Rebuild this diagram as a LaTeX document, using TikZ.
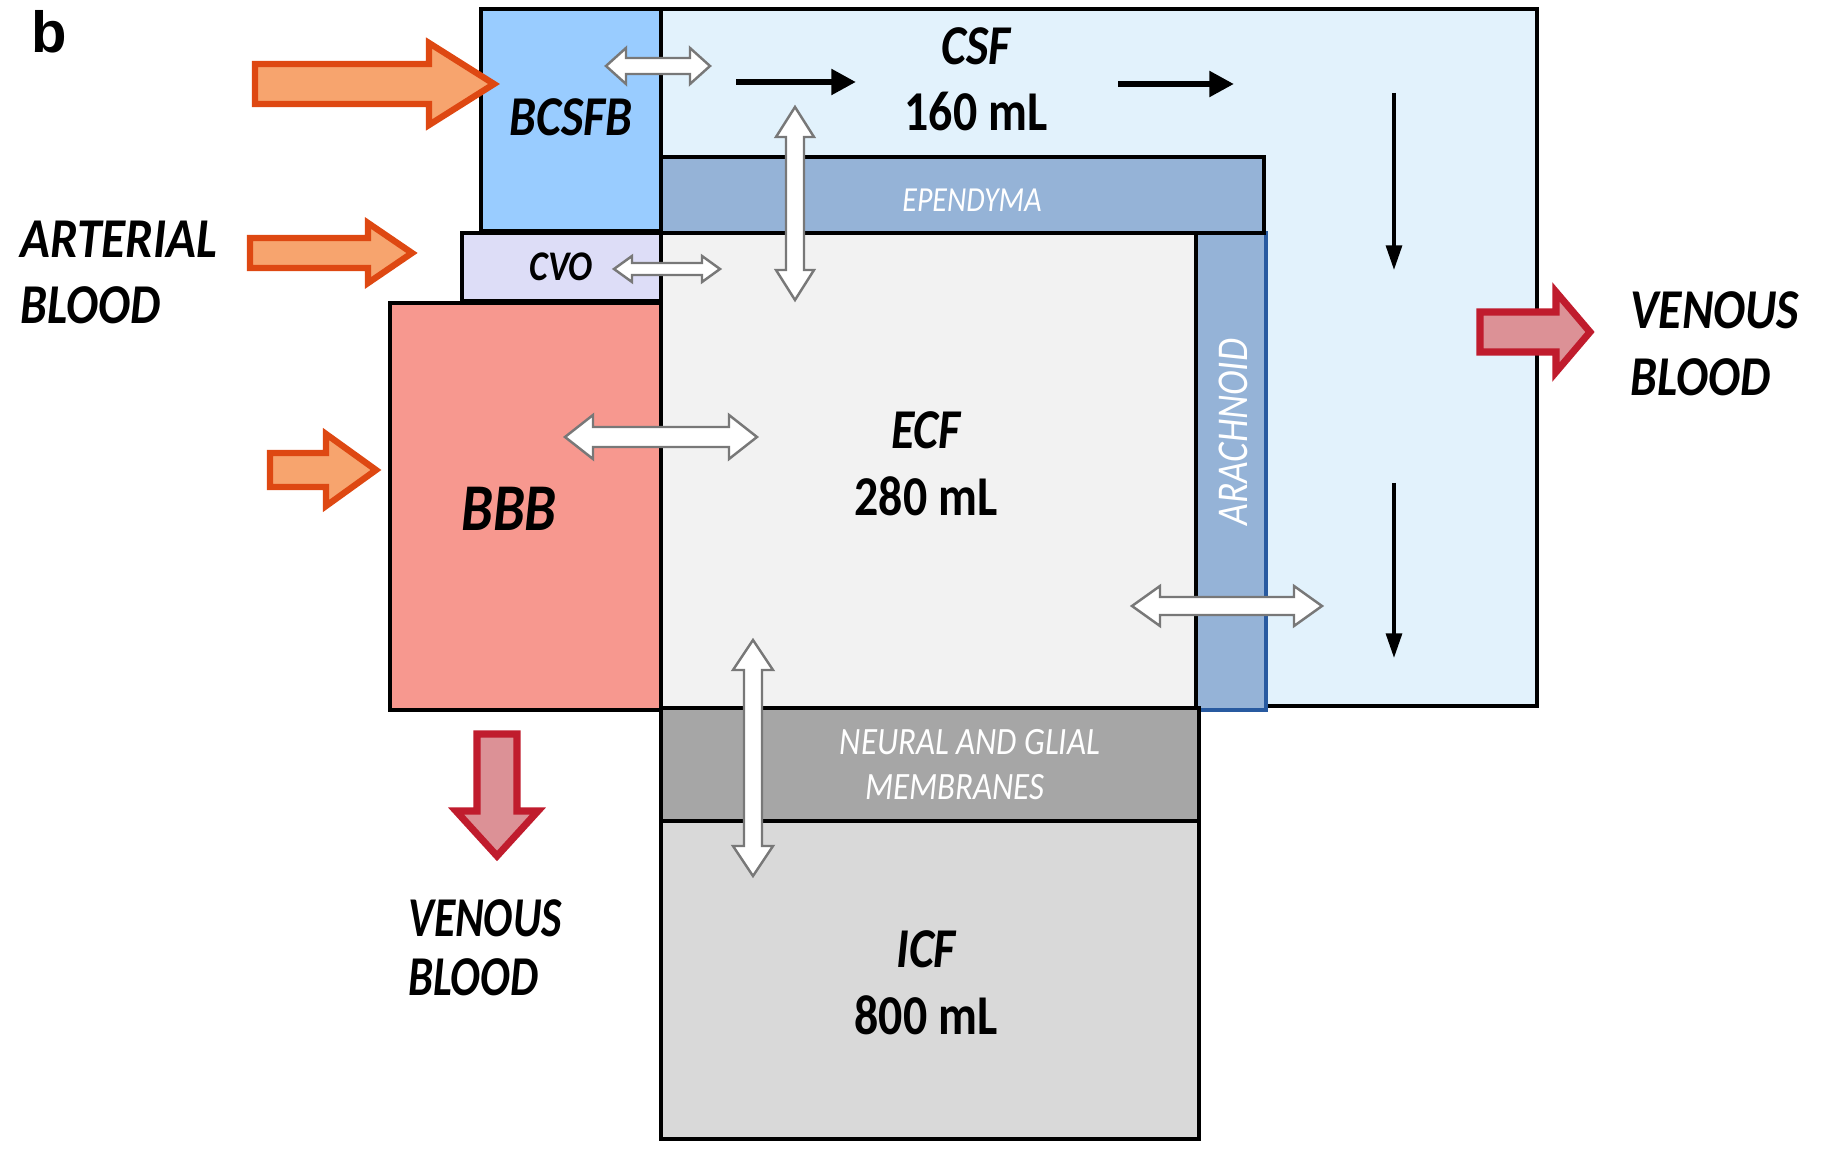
\documentclass[tikz,border=0pt]{standalone}
\usepackage{fontspec}
\usepackage{graphicx}
\setmainfont{Carlito}
\newfontfamily\lab[FakeStretch=0.85]{Carlito}
\newfontfamily\bfont{Liberation Sans}
\usetikzlibrary{arrows.meta,fit}

\definecolor{csfc}{RGB}{226,242,252}
\definecolor{bcsfbc}{RGB}{153,204,255}
\definecolor{epc}{RGB}{149,179,215}
\definecolor{arline}{RGB}{40,90,160}
\definecolor{cvoc}{RGB}{221,221,247}
\definecolor{bbbc}{RGB}{247,152,143}
\definecolor{ecfc}{RGB}{242,242,242}
\definecolor{neuc}{RGB}{166,166,166}
\definecolor{icfc}{RGB}{217,217,217}
\definecolor{orfill}{RGB}{247,164,110}
\definecolor{ordraw}{RGB}{222,72,18}
\definecolor{vefill}{RGB}{220,145,150}
\definecolor{vedraw}{RGB}{192,28,45}
\definecolor{wadraw}{RGB}{120,120,120}

\newcommand\boxnode[6]{%
  \coordinate (#1-nw) at (#2,#3);
  \coordinate (#1-se) at (#4,#5);
  \node[fit=(#1-nw)(#1-se),inner sep=0pt,draw,line width=1.3pt,#6] (#1) {};}
% style, x1, x2, y, shaft half, head half, head length
\newcommand\arrowRight[7]{%
  \draw[#1] ({#2},{#4-#5}) -- ({#3-#7},{#4-#5}) -- ({#3-#7},{#4-#6}) -- ({#3},{#4})
   -- ({#3-#7},{#4+#6}) -- ({#3-#7},{#4+#5}) -- ({#2},{#4+#5}) -- cycle;}
% style, x, y1, y2, shaft half, head half, head length
\newcommand\arrowDown[7]{%
  \draw[#1] ({#2-#5},{#3}) -- ({#2-#5},{#4-#7}) -- ({#2-#6},{#4-#7}) -- ({#2},{#4})
   -- ({#2+#6},{#4-#7}) -- ({#2+#5},{#4-#7}) -- ({#2+#5},{#3}) -- cycle;}
% style, x1, x2, y, shaft half, head half, head length
\newcommand\dblH[7]{%
  \draw[#1] ({#2},{#4}) -- ({#2+#7},{#4-#6}) -- ({#2+#7},{#4-#5}) -- ({#3-#7},{#4-#5})
   -- ({#3-#7},{#4-#6}) -- ({#3},{#4}) -- ({#3-#7},{#4+#6}) -- ({#3-#7},{#4+#5})
   -- ({#2+#7},{#4+#5}) -- ({#2+#7},{#4+#6}) -- cycle;}
% style, x, y1, y2, shaft half, head half, head length
\newcommand\dblV[7]{%
  \draw[#1] ({#2},{#3}) -- ({#2-#6},{#3+#7}) -- ({#2-#5},{#3+#7}) -- ({#2-#5},{#4-#7})
   -- ({#2-#6},{#4-#7}) -- ({#2},{#4}) -- ({#2+#6},{#4-#7}) -- ({#2+#5},{#4-#7})
   -- ({#2+#5},{#3+#7}) -- ({#2+#6},{#3+#7}) -- cycle;}

\begin{document}
\begin{tikzpicture}[x=0.01cm,y=-0.01cm,
  big/.style={font=\lab\fontsize{16}{19}\selectfont\bfseries\itshape},
  bigup/.style={font=\lab\fontsize{16}{19}\selectfont\bfseries},
  side/.style={font=\lab\fontsize{16}{19}\selectfont\bfseries\itshape,anchor=west},
  wlab/.style={font=\lab\fontsize{10}{12}\selectfont\itshape,text=white},
  orarrow/.style={fill=orfill,draw=ordraw,line width=1.8pt,line join=miter},
  vearrow/.style={fill=vefill,draw=vedraw,line width=2pt,line join=miter},
  wharrow/.style={fill=white,draw=wadraw,line width=0.7pt,line join=miter},
  flowh/.style={line width=1.8pt,-{Triangle[length=7pt,width=7pt]}},
  flowv/.style={line width=1pt,-{Triangle[length=7pt,width=4.5pt]}}]
\useasboundingbox (0,0) rectangle (1826,1149);

% compartments
\boxnode{csf}{481}{9}{1537}{706}{fill=csfc}
\boxnode{bcsfb}{481}{9}{661}{231}{fill=bcsfbc}
\boxnode{arach}{1196}{233}{1266}{710}{fill=epc,draw=arline}
\boxnode{epend}{661}{157}{1264}{233}{fill=epc}
\boxnode{ecf}{661}{233}{1196}{708}{fill=ecfc}
\boxnode{cvo}{462}{233}{661}{301}{fill=cvoc}
\boxnode{bbb}{390}{303}{661}{710}{fill=bbbc}
\boxnode{neural}{661}{708}{1199}{821}{fill=neuc}
\boxnode{icf}{661}{821}{1199}{1139}{fill=icfc}

% labels
\node[font=\bfont\fontsize{16.5}{19}\selectfont\bfseries] (b) at (49,32) {b};
\node[big] (tbcsfb) at (571,117) {BCSFB};
\node[big] (tcsf) at (976,46) {CSF};
\node[bigup] (tcsfv) at (976,112) {160 mL};
\node[wlab] (tepend) at (972,200) {EPENDYMA};
\node[font=\lab\fontsize{12}{14}\selectfont\bfseries\itshape] (tcvo) at (561,267) {CVO};
\node[font=\lab\fontsize{19}{22}\selectfont\bfseries\itshape] (tbbb) at (509,509) {BBB};
\node[big] (tecf) at (926,430) {ECF};
\node[bigup] (tecfv) at (926,496) {280 mL};
\node[wlab,font=\lab\fontsize{12.5}{14}\selectfont\itshape,rotate=90] (tarach) at (1233,432) {ARACHNOID};
\node[wlab,font=\lab\fontsize{11}{13}\selectfont\itshape] (tneu1) at (970,742) {NEURAL AND GLIAL};
\node[wlab,font=\lab\fontsize{11}{13}\selectfont\itshape] (tneu2) at (955,787) {MEMBRANES};
\node[big] (ticf) at (926,949) {ICF};
\node[bigup] (ticfv) at (926,1015) {800 mL};
\node[side] (art1) at (8,239) {\scalebox{1.03}[1]{ARTERIAL}};
\node[side] (art2) at (8,305) {BLOOD};
\node[side] (ven1) at (396,918) {\scalebox{0.91}[1]{VENOUS}};
\node[side] (ven2) at (396,977) {\scalebox{0.93}[1]{BLOOD}};
\node[side] (ven3) at (1618,310) {VENOUS};
\node[side] (ven4) at (1618,377) {BLOOD};

% blood arrows
\arrowRight{orarrow}{255}{494}{84}{20}{41}{65}
\arrowRight{orarrow}{250}{412}{253}{15}{30}{44}
\arrowRight{orarrow}{270}{376}{470}{17}{36}{50}
\arrowDown{vearrow}{497}{734}{856}{20}{41}{45}
\arrowRight{vearrow}{1480}{1590}{332}{20}{40}{34}

% exchange arrows
\dblH{wharrow}{606}{710}{66}{8}{18}{20}
\dblH{wharrow}{614}{720}{269}{6}{13}{18}
\dblV{wharrow}{795}{107}{300}{9}{19}{30}
\dblH{wharrow}{565}{757}{437}{10}{22}{28}
\dblV{wharrow}{753}{640}{876}{9}{20}{30}
\dblH{wharrow}{1132}{1322}{606}{9}{20}{28}

% CSF flow
\coordinate (f1a) at (736,82);  \coordinate (f1b) at (856,82);
\coordinate (f2a) at (1118,84); \coordinate (f2b) at (1234,84);
\coordinate (f3a) at (1394,93); \coordinate (f3b) at (1394,270);
\coordinate (f4a) at (1394,483); \coordinate (f4b) at (1394,658);
\draw[flowh] (f1a) -- (f1b);
\draw[flowh] (f2a) -- (f2b);
\draw[flowv] (f3a) -- (f3b);
\draw[flowv] (f4a) -- (f4b);
\end{tikzpicture}
\end{document}
